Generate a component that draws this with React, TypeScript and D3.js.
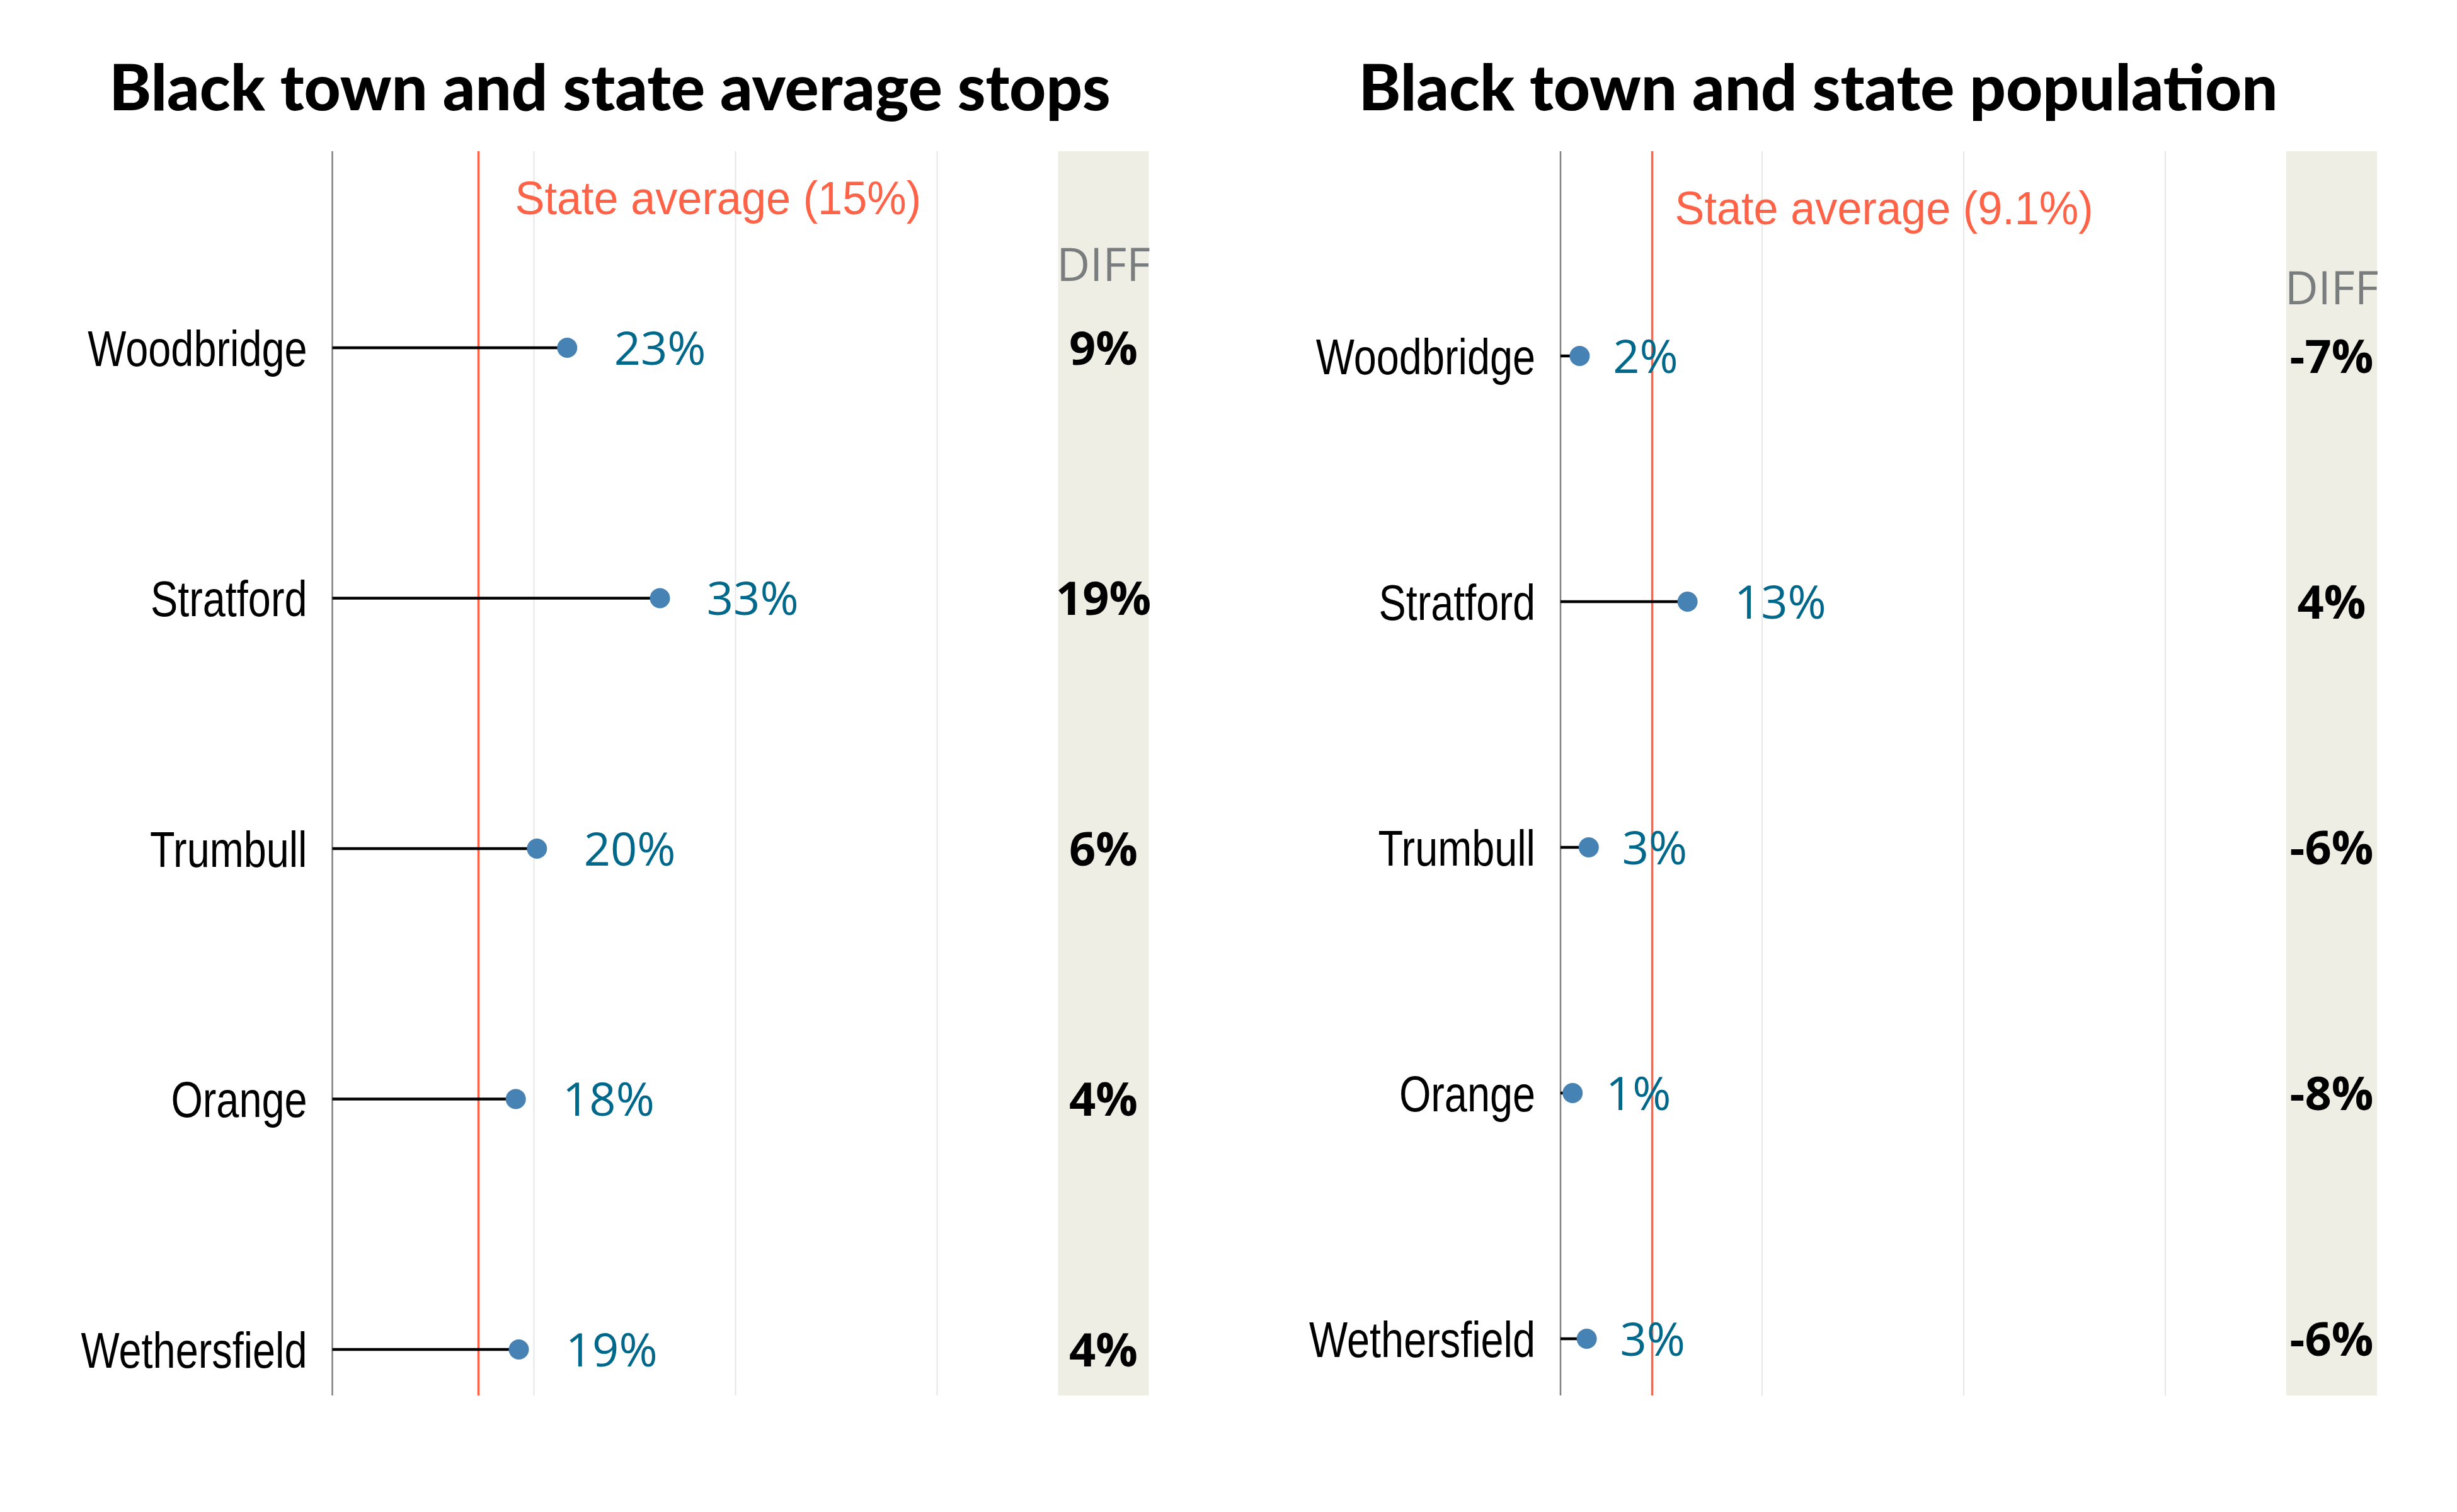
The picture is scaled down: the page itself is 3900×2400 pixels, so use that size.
import * as d3 from 'd3';

const towns = ['Woodbridge', 'Stratford', 'Trumbull', 'Orange', 'Wethersfield'];

// share of traffic stops involving Black drivers, by town (%)
const stopsShare = [23.3, 32.5, 20.3, 18.2, 18.5];
const stopsDiff = [9, 19, 6, 4, 4];
const stopsStateAvg = 14.5;

// Black share of town population (%)
const popShare = [1.9, 12.6, 2.8, 1.2, 2.6];
const popDiff = [-7, 4, -6, -8, -6];
const popStateAvg = 9.1;

const gridTicks = [20, 40, 60];

const W = 3900;
const H = 2400;
const PX_PER_PCT = 16;
const PLOT_TOP = 240;
const PLOT_BOTTOM = 2215;
const DIFF_COL = [72, 81];

const RED = '#ff6347';
const DOT = '#4682b4';
const LABEL = '#00688b';
const SANS = "'Liberation Sans', Arial, sans-serif";

const panels = [
  {
    title: 'Black town and state average stops',
    values: stopsShare,
    diffs: stopsDiff,
    avg: stopsStateAvg,
    avgFmt: d3.format('.0f'),
    x0: 527.5,
    titleX: 968,
    rows: [552, 2142],
    avgDx: 58,
    avgY: 340,
    diffHeadY: 446,
  },
  {
    title: 'Black town and state population',
    values: popShare,
    diffs: popDiff,
    avg: popStateAvg,
    avgFmt: d3.format('.1f'),
    x0: 2477,
    titleX: 2886,
    rows: [565, 2125],
    avgDx: 36,
    avgY: 356,
    diffHeadY: 483,
  },
];

// rough Open Sans advance widths, used to nudge value labels right
const labelWidth = (s: string, size: number) =>
  s.split('').reduce((w, c) => w + (c === '%' ? 0.838 : 0.572), 0) * size;

function Panel({ p }: { p: (typeof panels)[number] }) {
  const x = d3
    .scaleLinear()
    .domain([0, 60])
    .range([p.x0, p.x0 + 60 * PX_PER_PCT]);
  const y = d3.scalePoint<string>().domain(towns).range(p.rows);
  const colX = x(DIFF_COL[0]);
  const colW = x(DIFF_COL[1]) - colX;
  const colMid = colX + colW / 2;

  return (
    <g>
      <text
        x={p.titleX}
        y={175}
        textAnchor='middle'
        fontFamily='Lato'
        fontWeight={900}
        fontSize={101}
        fill='#000'
      >
        {p.title}
      </text>

      {/* grid */}
      {gridTicks.map((t) => (
        <line
          key={t}
          x1={x(t)}
          x2={x(t)}
          y1={PLOT_TOP}
          y2={PLOT_BOTTOM}
          stroke='#e6e6e6'
          strokeWidth={2}
        />
      ))}
      <line
        x1={x(0)}
        x2={x(0)}
        y1={PLOT_TOP}
        y2={PLOT_BOTTOM}
        stroke='#808080'
        strokeWidth={2.5}
      />

      {/* DIFF column */}
      <rect x={colX} y={PLOT_TOP} width={colW} height={PLOT_BOTTOM - PLOT_TOP} fill='#eeeee4' />
      <text
        x={colMid}
        y={p.diffHeadY}
        textAnchor='middle'
        fontFamily='Open Sans'
        fontSize={73}
        fill='#7a7d7e'
      >
        DIFF
      </text>

      {/* state average */}
      <line
        x1={x(p.avg)}
        x2={x(p.avg)}
        y1={PLOT_TOP}
        y2={PLOT_BOTTOM}
        stroke={RED}
        strokeWidth={3.5}
      />
      <text
        transform={`translate(${x(p.avg) + p.avgDx},${p.avgY}) scale(0.95,1)`}
        fontFamily={SANS}
        fontSize={74}
        fill={RED}
      >
        {`State average (${p.avgFmt(p.avg)}%)`}
      </text>

      {towns.map((town, i) => {
        const cy = y(town) ?? 0;
        const v = p.values[i];
        const lbl = `${Math.round(v)}%`;
        return (
          <g key={town}>
            <text
              transform={`translate(${p.x0 - 40},${cy}) scale(0.81,1)`}
              dy='0.36em'
              textAnchor='end'
              fontFamily={SANS}
              fontSize={80}
              fill='#000'
            >
              {town}
            </text>
            <line x1={x(0)} x2={x(v)} y1={cy} y2={cy} stroke='#000' strokeWidth={4.5} />
            <circle cx={x(v)} cy={cy} r={16} fill={DOT} />
            <text
              x={x(v) + labelWidth(lbl, 75) / 2}
              y={cy}
              dy='0.36em'
              fontFamily='Open Sans'
              fontSize={74}
              fill={LABEL}
            >
              {lbl}
            </text>
            <text
              x={colMid}
              y={cy}
              dy='0.36em'
              textAnchor='middle'
              fontFamily='Open Sans'
              fontWeight={700}
              fontSize={74}
              fill='#000'
            >
              {`${p.diffs[i]}%`}
            </text>
          </g>
        );
      })}
    </g>
  );
}

export default function App() {
  return (
    <svg
      width={W}
      height={H}
      viewBox={`0 0 ${W} ${H}`}
      style={{ position: 'absolute', left: 0, top: 0, background: '#fff' }}
    >
      <rect width={W} height={H} fill='#fff' />
      {panels.map((p) => (
        <Panel key={p.title} p={p} />
      ))}
    </svg>
  );
}
